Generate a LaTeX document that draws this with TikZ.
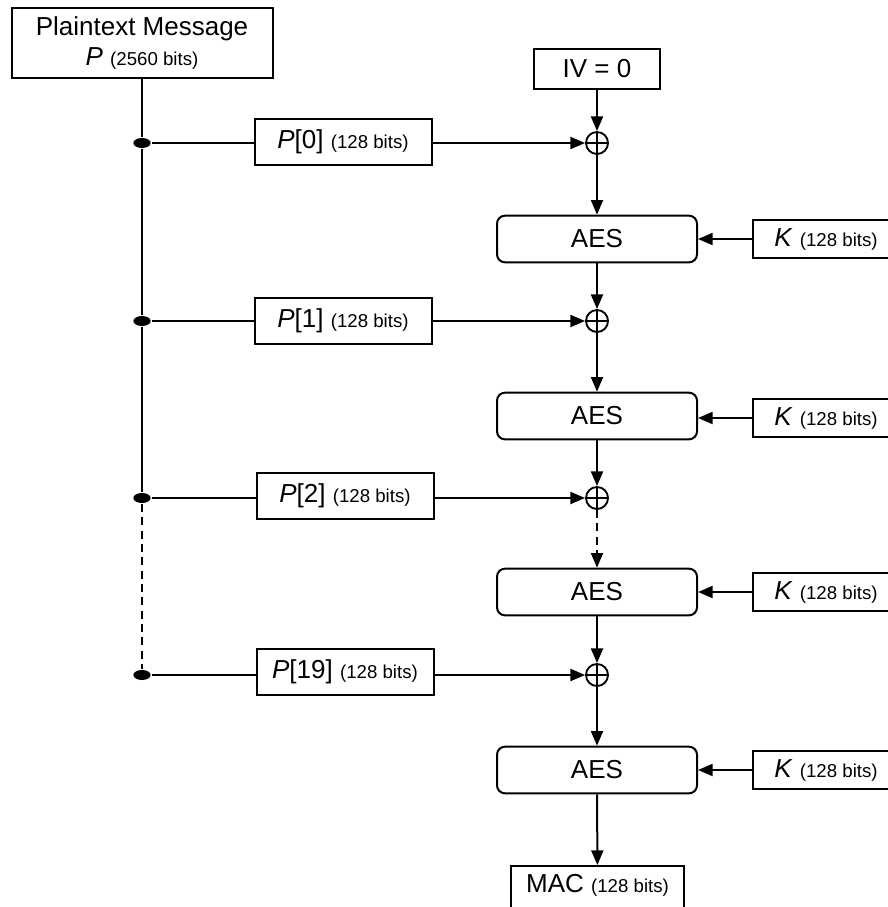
\documentclass[tikz,border=0pt]{standalone}
\usepackage{fontspec}
\setmainfont{Liberation Sans}
\usetikzlibrary{arrows.meta,shapes.geometric}

\newcommand{\bits}[1]{{\fontsize{14}{16}\selectfont (#1 bits)}}

\tikzset{
  box/.style={draw,line width=1.5pt,inner sep=0pt,align=center},
  blockbox/.style={box,minimum width=132.75pt,minimum height=34.5pt},
  aesbox/.style={box,rounded corners=6pt,minimum width=150pt,minimum height=35pt},
  keybox/.style={box,minimum width=110pt,minimum height=28.5pt},
  junction/.style={ellipse,fill,inner sep=0pt,minimum width=13pt,minimum height=7.5pt},
  xorop/.style={circle,draw,line width=1.4pt,inner sep=0pt,minimum size=16.5pt,
    path picture={\draw[line width=1.1pt] (path picture bounding box.north) -- (path picture bounding box.south)
      (path picture bounding box.west) -- (path picture bounding box.east);}},
  arr/.style={-{Triangle[length=11pt,width=9pt]}},
  dash line/.style={dash pattern=on 6pt off 4pt}
}

\begin{document}
\begin{tikzpicture}[x=0.75pt,y=0.75pt,yscale=-1,xscale=1,line width=1.5pt,
  font=\fontsize{19.5}{23}\selectfont]
\clip (0,0) rectangle (888,907);

%Shape: Rectangle [plaintext]
\draw (142,43) node [box,minimum width=195.75pt,minimum height=52.5pt] (plain) {Plaintext Message\\\textit{P} \bits{2560}};
%Shape: Rectangle [IV]
\draw (597,69) node [box,minimum width=95pt,minimum height=30pt] (iv) {IV = 0};

% Junctions
\draw (142,143) node [junction] (j0) {};
\draw (142,321) node [junction] (j1) {};
\draw (142,498) node [junction] (j2) {};
\draw (142,675) node [junction] (j3) {};

% Blocks
\draw (343,142) node [blockbox] (p0) {\textit{P}[0] \bits{128}};
\draw (343,321) node [blockbox] (p1) {\textit{P}[1] \bits{128}};
\draw (345,496) node [blockbox] (p2) {\textit{P}[2] \bits{128}};
\draw (345,672) node [blockbox] (p3) {\textit{P}[19] \bits{128}};

% XOR
\draw (597,143) node [xorop] (x0) {};
\draw (597,321) node [xorop] (x1) {};
\draw (597,498) node [xorop] (x2) {};
\draw (597,675) node [xorop] (x3) {};

% AES
\draw (597,239) node [aesbox] (a0) {AES};
\draw (597,416) node [aesbox] (a1) {AES};
\draw (597,592) node [aesbox] (a2) {AES};
\draw (597,770) node [aesbox] (a3) {AES};

% Keys
\draw (826,239) node [keybox] (k0) {\textit{K} \bits{128}};
\draw (826,418) node [keybox] (k1) {\textit{K} \bits{128}};
\draw (826,592) node [keybox] (k2) {\textit{K} \bits{128}};
\draw (826,770) node [keybox] (k3) {\textit{K} \bits{128}};

%Shape: Rectangle [MAC]
\draw (597.5,865) node [box,anchor=north,minimum width=130pt,text height=18pt,text depth=25pt,inner ysep=2pt] (mac) {MAC \bits{128}};

%Straight Lines
\draw (plain) -- (j0) -- (j1) -- (j2);
\draw [dash line] (j2) -- (j3);
\draw (j0) -- (j0 -| p0.west);
\draw (j1) -- (p1);
\draw (j2) -- (j2 -| p2.west);
\draw (j3) -- (j3 -| p3.west);
\draw [arr] (p0.east |- x0) -- (x0);
\draw [arr] (p1) -- (x1);
\draw [arr] (p2.east |- x2) -- (x2);
\draw [arr] (p3.east |- x3) -- (x3);

\draw [arr] (iv) -- (x0);
\draw [arr] (x0) -- (a0);
\draw [arr] (a0) -- (x1);
\draw [arr] (x1) -- (a1);
\draw [arr] (a1) -- (x2);
\draw [arr,dash line] (x2) -- (a2);
\draw [arr] (a2) -- (x3);
\draw [arr] (x3) -- (a3);
\draw [arr] (a3) -- (mac);

\draw [arr] (k0) -- (a0);
\draw [arr] (k1.west) -- (k1.west -| a1.east);
\draw [arr] (k2) -- (a2);
\draw [arr] (k3) -- (a3);

\end{tikzpicture}
\end{document}
